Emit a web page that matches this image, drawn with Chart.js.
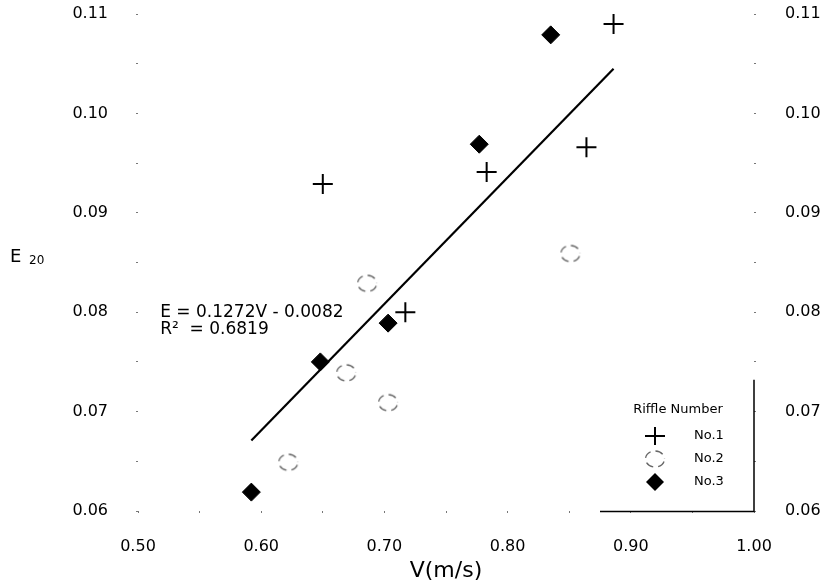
<!DOCTYPE html>
<html>
<head>
<meta charset="utf-8">
<script src="https://cdn.jsdelivr.net/npm/chart.js@4.4.1/dist/chart.umd.min.js"></script>
<style>
  html, body { margin: 0; padding: 0; background: #fff; }
</style>
</head>
<body>
<canvas id="chart" width="826" height="586"></canvas>
<script>
// Riffle No.1 (plus markers)
const no1V = [0.650, 0.717, 0.783, 0.864, 0.886];
const no1E = [0.0929, 0.0800, 0.0941, 0.0966, 0.1090];
// Riffle No.2 (dashed circles)
const no2V = [0.622, 0.669, 0.686, 0.703, 0.851];
const no2E = [0.0649, 0.0739, 0.0829, 0.0709, 0.0859];
// Riffle No.3 (diamonds)
const no3V = [0.592, 0.648, 0.703, 0.777, 0.835];
const no3E = [0.0619, 0.0750, 0.0789, 0.0969, 0.1079];
// regression line end points, E = 0.1272V - 0.0082
const fitV = [0.592, 0.886];
const fitE = [0.0671, 0.1045];

const xLabels = [0.50, 0.60, 0.70, 0.80, 0.90, 1.00];
const yLabels = [0.06, 0.07, 0.08, 0.09, 0.10, 0.11];
const eqLines = ['E = 0.1272V - 0.0082', 'R\u00b2  = 0.6819'];
const legendTitle = 'Riffle Number';
const seriesNames = ['No.1', 'No.2', 'No.3'];

const FONT = '"DejaVu Sans", sans-serif';

function toPoints(xs, ys) {
    return xs.map((v, i) => ({ x: v, y: ys[i] }));
}

function pickLabel(value, list, digits) {
    return list.some(l => Math.abs(l - value) < 1e-6) ? value.toFixed(digits) : '';
}

// dashed open circle used as point style
function makeDashedCircle() {
    const c = document.createElement('canvas');
    c.width = 24; c.height = 22;
    const g = c.getContext('2d');
    g.strokeStyle = '#666';
    g.lineWidth = 1.3;
    g.setLineDash([8, 5]);
    g.lineDashOffset = 10.5;
    g.beginPath();
    g.ellipse(12, 11, 9.5, 8, 0, 0, Math.PI * 2);
    g.stroke();
    return c;
}
const dashedCircle = makeDashedCircle();

function drawPlus(ctx, x, y) {
    ctx.beginPath();
    ctx.moveTo(x - 10, y); ctx.lineTo(x + 10, y);
    ctx.moveTo(x, y - 9); ctx.lineTo(x, y + 9);
    ctx.lineWidth = 2;
    ctx.strokeStyle = '#000';
    ctx.stroke();
}

function drawDiamond(ctx, x, y) {
    ctx.beginPath();
    ctx.moveTo(x - 9, y); ctx.lineTo(x, y - 9);
    ctx.lineTo(x + 9, y); ctx.lineTo(x, y + 9);
    ctx.closePath();
    ctx.fillStyle = '#000';
    ctx.fill();
}

const decorations = {
    id: 'decorations',
    afterDatasetsDraw(chart) {
        const { ctx, chartArea } = chart;
        const xs = chart.scales.x, ys = chart.scales.y;
        ctx.save();

        // legend box edges (right and bottom)
        ctx.strokeStyle = '#000';
        ctx.lineWidth = 1.5;
        ctx.beginPath();
        ctx.moveTo(xs.getPixelForValue(0.875), chartArea.bottom + 0.5);
        ctx.lineTo(chartArea.right, chartArea.bottom + 0.5);
        ctx.lineTo(chartArea.right, ys.getPixelForValue(0.0732));
        ctx.stroke();

        // legend
        const lx = chartArea.left, ly = chartArea.top;
        ctx.fillStyle = '#000';
        ctx.font = '13px ' + FONT;
        ctx.textAlign = 'center';
        ctx.textBaseline = 'middle';
        ctx.fillText(legendTitle, lx + 540, ly + 396);
        ctx.font = '13px ' + FONT;
        ctx.textAlign = 'left';
        const rows = [422, 445, 468];
        drawPlus(ctx, lx + 517, ly + rows[0]);
        ctx.drawImage(dashedCircle, lx + 517 - 12, ly + rows[1] - 11);
        drawDiamond(ctx, lx + 517, ly + rows[2]);
        ctx.fillStyle = '#000';
        seriesNames.forEach((n, i) => ctx.fillText(n, lx + 556, ly + rows[i]));

        // regression equation
        ctx.font = '17px ' + FONT;
        ctx.textAlign = 'left';
        ctx.fillText(eqLines[0], xs.getPixelForValue(0.518), ys.getPixelForValue(0.0800));
        ctx.fillText(eqLines[1], xs.getPixelForValue(0.518), ys.getPixelForValue(0.0783));

        // y axis title E20
        ctx.font = '18px ' + FONT;
        ctx.fillText('E', 10, 257);
        ctx.font = '12px ' + FONT;
        ctx.fillText('20', 29, 261);
        ctx.restore();
    }
};

const tickGrid = {
    drawOnChartArea: false,
    drawTicks: true,
    tickLength: 2,
    color: '#777',
    lineWidth: 1
};

function fitY(width) {
    return s => { s.width = width; s.paddingTop = 0; s.paddingBottom = 0; };
}

new Chart(document.getElementById('chart'), {
    type: 'scatter',
    data: {
        datasets: [
            {
                label: 'fit',
                data: toPoints(fitV, fitE),
                showLine: true,
                borderColor: '#000',
                borderWidth: 2.2,
                pointRadius: 0
            },
            {
                label: seriesNames[0],
                data: toPoints(no1V, no1E),
                pointStyle: 'cross',
                pointRadius: 10,
                borderColor: '#000',
                borderWidth: 2
            },
            {
                label: seriesNames[1],
                data: toPoints(no2V, no2E),
                pointStyle: dashedCircle
            },
            {
                label: seriesNames[2],
                data: toPoints(no3V, no3E),
                pointStyle: 'rectRot',
                pointRadius: 9,
                backgroundColor: '#000',
                borderColor: '#000',
                borderWidth: 1
            }
        ]
    },
    options: {
        responsive: false,
        animation: false,
        layout: { padding: { top: 14, left: 0, right: 0, bottom: 0 } },
        plugins: {
            legend: { display: false },
            tooltip: { enabled: false }
        },
        scales: {
            x: {
                type: 'linear',
                min: 0.5,
                max: 1.0,
                border: { display: false },
                grid: tickGrid,
                ticks: {
                    stepSize: 0.05,
                    maxRotation: 0,
                    autoSkip: false,
                    padding: 24,
                    color: '#000',
                    font: { family: FONT, size: 16 },
                    callback: v => pickLabel(v, xLabels, 2)
                },
                title: {
                    display: true,
                    text: 'V(m/s)',
                    color: '#000',
                    font: { family: FONT, size: 22 },
                    padding: { top: 0, bottom: 2 }
                },
                afterFit: s => { s.height = 75; s.paddingLeft = 0; s.paddingRight = 0; }
            },
            y: {
                type: 'linear',
                position: 'left',
                min: 0.06,
                max: 0.11,
                border: { display: false },
                grid: tickGrid,
                ticks: {
                    stepSize: 0.005,
                    autoSkip: false,
                    padding: 28,
                    color: '#000',
                    font: { family: FONT, size: 16 },
                    callback: v => pickLabel(v, yLabels, 2)
                },
                afterFit: fitY(138)
            },
            y2: {
                type: 'linear',
                position: 'right',
                min: 0.06,
                max: 0.11,
                border: { display: false },
                grid: tickGrid,
                ticks: {
                    stepSize: 0.005,
                    autoSkip: false,
                    padding: 29,
                    color: '#000',
                    font: { family: FONT, size: 16 },
                    callback: v => pickLabel(v, yLabels, 2)
                },
                afterFit: fitY(72)
            }
        }
    },
    plugins: [decorations]
});
</script>
</body>
</html>
